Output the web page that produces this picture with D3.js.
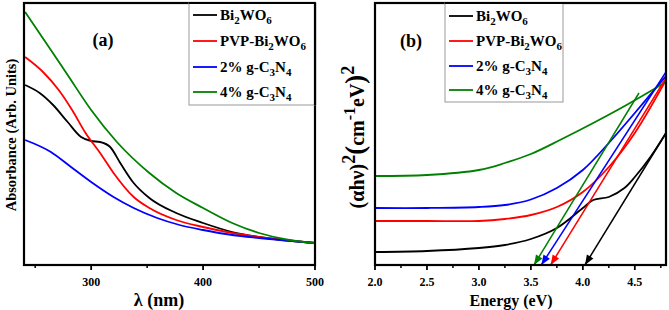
<!DOCTYPE html>
<html>
<head>
<meta charset="utf-8">
<script src="https://cdn.jsdelivr.net/npm/d3@7"></script>
<style>
  body { margin: 0; background: #fff; }
  svg text { font-family: "Liberation Serif", "DejaVu Serif", serif; font-weight: bold; }
</style>
</head>
<body>
<svg id="chart" width="669" height="310"></svg>
<script>
// panel (a): absorbance vs wavelength
var lamBi = [241,254,266,279,291,300,308,317,326,338,352,376,400,426,450,500];
var absBi = [1.80,1.72,1.60,1.43,1.28,1.24,1.23,1.18,1.02,0.82,0.67,0.52,0.42,0.33,0.28,0.22];
var lamPvp = [241,257,271,283,295,308,320,338,352,376,400,426,450,500];
var absPvp = [2.08,1.93,1.75,1.55,1.32,1.12,0.92,0.68,0.57,0.45,0.38,0.32,0.28,0.22];
var lam2 = [241,264,282,300,320,338,359,379,400,426,450,500];
var abs2 = [1.25,1.13,0.98,0.83,0.68,0.57,0.47,0.40,0.35,0.30,0.27,0.22];
var lam4 = [241,264,279,300,323,352,376,400,426,450,477,500];
var abs4 = [2.53,2.15,1.90,1.55,1.23,0.92,0.72,0.57,0.42,0.32,0.25,0.22];

// panel (b): tauc plot
var eBi = [2.0,2.5,3.0,3.25,3.5,3.75,4.0,4.1,4.25,4.4,4.5,4.65,4.8];
var tBi = [0.13,0.14,0.17,0.20,0.26,0.37,0.57,0.65,0.68,0.77,0.88,1.08,1.32];
var ePvp = [2.0,2.5,3.0,3.25,3.5,3.75,4.0,4.25,4.5,4.8];
var tPvp = [0.44,0.44,0.44,0.46,0.50,0.58,0.73,0.98,1.32,1.85];
var e2 = [2.0,2.5,3.0,3.25,3.5,3.75,4.0,4.25,4.5,4.8];
var t2 = [0.57,0.57,0.58,0.60,0.655,0.77,0.95,1.22,1.52,1.89];
var e4 = [2.0,2.5,3.0,3.25,3.5,3.78,4.1,4.42,4.8];
var t4 = [0.89,0.90,0.95,1.02,1.11,1.25,1.42,1.60,1.83];
// tangent lines [E0, v0, E1, v1], arrow at first point
var tanBi = [4.02,0,4.8,1.32];
var tanPvp = [3.69,0,4.8,1.87];
var tan2 = [3.60,0,4.8,1.93];
var tan4 = [3.53,0,4.54,1.72];

var xTicksA = [300,400,500];
var xMinorA = [250,350,450];
var xTicksB = [2.0,2.5,3.0,3.5,4.0,4.5];
var xMinorB = [2.25,2.75,3.25,3.75,4.25,4.75];

var colors = ['#000000','#ff0000','#0000ff','#008000'];
var names = [['Bi','2','WO','6'],['PVP-Bi','2','WO','6'],['2% g-C','3','N','4'],['4% g-C','3','N','4']];

var svg = d3.select('#chart');

var zip = function(xs, ys) { return xs.map(function(x,i) { return {x:x, y:ys[i]}; }); };

var panel = function(opt) {
  var x = d3.scaleLinear().domain(opt.xdom).range([opt.left, opt.right]);
  var y = d3.scaleLinear().domain([0, 2.62]).range([265, 3]);
  var g = svg.append('g');

  var clip = 'clip' + opt.id;
  svg.append('clipPath').attr('id', clip).append('rect')
    .attr('x', opt.left).attr('y', 3).attr('width', opt.right - opt.left).attr('height', 262);

  var line = d3.line().curve(opt.curve)
    .x(function(d) { return x(d.x); })
    .y(function(d) { return y(d.y); });

  opt.series.forEach(function(s, i) {
    g.append('path').datum(s)
      .attr('clip-path', 'url(#' + clip + ')')
      .attr('d', line)
      .attr('fill', 'none')
      .attr('stroke', colors[i])
      .attr('stroke-width', 1.8);
  });

  if (opt.tangents) {
    opt.tangents.forEach(function(t, i) {
      var x0 = x(t[0]), y0 = y(t[1]), x1 = x(t[2]), y1 = y(t[3]);
      g.append('line')
        .attr('x1', x0).attr('y1', y0).attr('x2', x1).attr('y2', y1)
        .attr('stroke', colors[i]).attr('stroke-width', 1.5);
      var ang = Math.atan2(y1 - y0, x1 - x0);
      var len = 10, wid = 3.8;
      var bx = x0 + Math.cos(ang) * len, by = y0 + Math.sin(ang) * len;
      var px = -Math.sin(ang) * wid, py = Math.cos(ang) * wid;
      g.append('path')
        .attr('d', 'M' + x0 + ',' + y0 + 'L' + (bx + px) + ',' + (by + py) + 'L' + (bx - px) + ',' + (by - py) + 'Z')
        .attr('fill', colors[i]);
    });
  }

  // minor + major ticks, outward
  opt.minor.forEach(function(v) {
    g.append('line').attr('x1', x(v)).attr('x2', x(v)).attr('y1', 265).attr('y2', 268)
      .attr('stroke', '#000').attr('stroke-width', 1.5);
  });
  opt.ticks.forEach(function(v) {
    g.append('line').attr('x1', x(v)).attr('x2', x(v)).attr('y1', 265).attr('y2', 270)
      .attr('stroke', '#000').attr('stroke-width', 1.8);
    g.append('text').attr('x', x(v)).attr('y', 286)
      .attr('text-anchor', 'middle').attr('font-size', 12)
      .text(opt.fmt(v));
  });

  g.append('rect')
    .attr('x', opt.left).attr('y', 3)
    .attr('width', opt.right - opt.left).attr('height', 262)
    .attr('fill', 'none').attr('stroke', '#000').attr('stroke-width', 2.2);

  // legend
  var L = opt.legend;
  var lg = g.append('g');
  lg.append('rect').attr('x', L.x).attr('y', 3).attr('width', L.w).attr('height', L.h)
    .attr('fill', '#fff').attr('stroke', '#999').attr('stroke-width', 1);
  names.forEach(function(n, i) {
    var yy = L.rows[i];
    lg.append('line').attr('x1', L.x + 4).attr('x2', L.x + 28).attr('y1', yy).attr('y2', yy)
      .attr('stroke', colors[i]).attr('stroke-width', 1.8);
    var t = lg.append('text').attr('x', L.x + 31).attr('y', yy + 5).attr('font-size', 15);
    t.append('tspan').text(n[0]);
    t.append('tspan').attr('font-size', 11).attr('dy', 4).text(n[1]);
    t.append('tspan').attr('dy', -4).text(n[2]);
    t.append('tspan').attr('font-size', 11).attr('dy', 4).text(n[3]);
  });
  // redraw frame edges over legend
  g.append('line').attr('x1', L.x).attr('x2', opt.right).attr('y1', 3).attr('y2', 3)
    .attr('stroke', '#000').attr('stroke-width', 2.2);
  if (L.x + L.w >= opt.right - 1) {
    g.append('line').attr('x1', opt.right).attr('x2', opt.right).attr('y1', 3).attr('y2', 3 + L.h)
      .attr('stroke', '#000').attr('stroke-width', 2.2);
  }

  g.append('text').attr('x', opt.tag[0]).attr('y', opt.tag[1])
    .attr('text-anchor', 'middle').attr('font-size', 18).text(opt.tagText);

  return g;
};

panel({
  id: 'a', xdom: [240, 500], left: 24, right: 315, curve: d3.curveMonotoneX,
  series: [zip(lamBi, absBi), zip(lamPvp, absPvp), zip(lam2, abs2), zip(lam4, abs4)],
  ticks: xTicksA, minor: xMinorA, fmt: function(v) { return v; },
  legend: {x: 189, w: 126, h: 102, rows: [15, 41, 67, 92]},
  tag: [103, 46], tagText: '(a)'
});

panel({
  id: 'b', xdom: [2.0, 4.8], left: 375, right: 666, curve: d3.curveCatmullRom.alpha(0.5),
  series: [zip(eBi, tBi), zip(ePvp, tPvp), zip(e2, t2), zip(e4, t4)],
  tangents: [tanBi, tanPvp, tan2, tan4],
  ticks: xTicksB, minor: xMinorB, fmt: d3.format('.1f'),
  legend: {x: 445, w: 118, h: 99, rows: [16, 41, 66, 90]},
  tag: [411, 47], tagText: '(b)'
});

// axis titles
svg.append('text').attr('x', 159).attr('y', 306).attr('text-anchor', 'middle')
  .attr('font-size', 18).text('\u03bb (nm)');
svg.append('text').attr('x', 511).attr('y', 306).attr('text-anchor', 'middle')
  .attr('font-size', 16).text('Energy (eV)');

svg.append('text').attr('transform', 'translate(16,135) rotate(-90)')
  .attr('text-anchor', 'middle').attr('font-size', 14.5).text('Absorbance (Arb. Units)');

var yb = svg.append('text').attr('transform', 'translate(364,137) rotate(-90)')
  .attr('text-anchor', 'middle').attr('font-size', 20);
yb.append('tspan').text('(\u03b1h\u03bd)');
yb.append('tspan').attr('dy', -9).attr('font-size', 18).text('2');
yb.append('tspan').attr('dy', 9).attr('font-size', 27).text('(');
yb.append('tspan').text('cm');
yb.append('tspan').attr('dy', -9).attr('font-size', 16).text('-1');
yb.append('tspan').attr('dy', 9).text('eV');
yb.append('tspan').attr('font-size', 27).text(')');
yb.append('tspan').attr('dy', -10).attr('font-size', 18).text('2');
</script>
</body>
</html>
